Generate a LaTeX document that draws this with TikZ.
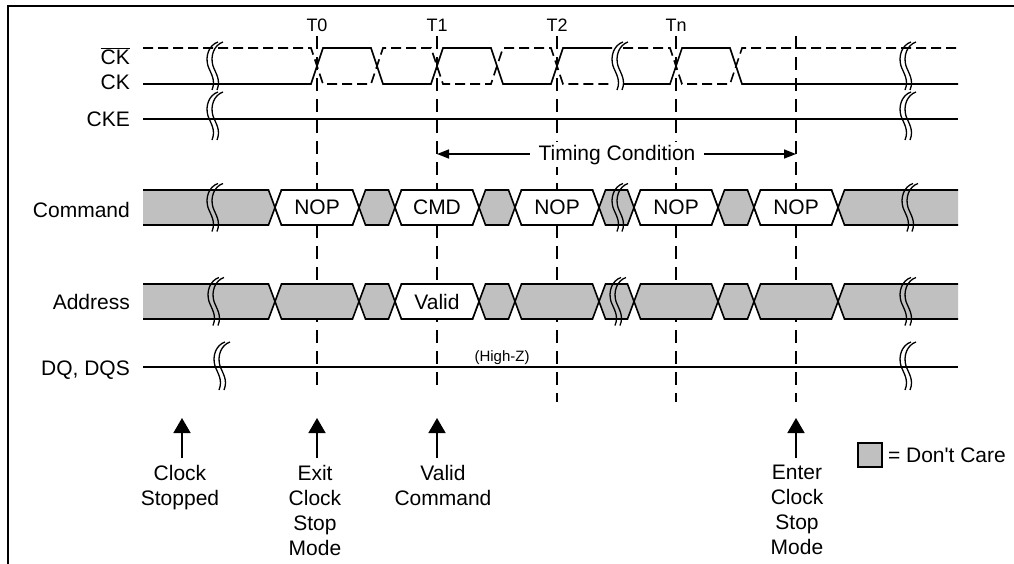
\documentclass[tikz,border=0pt]{standalone}
\usepackage{fontspec}
\setmainfont{Liberation Sans}
\usetikzlibrary{arrows.meta}
\definecolor{dcGray}{HTML}{C0C0C0}
\tikzset{
  sig/.style={line width=1.6pt},
  tline/.style={line width=1.5pt,dash pattern=on 13pt off 8pt},
  txt/.style={font=\fontsize{21}{25}\selectfont,inner sep=0pt},
  brk/.pic={
    \foreach \dx in {-2,3}
      \draw[line width=1.3pt] (8+\dx,-24) .. controls (-1+\dx,-21) and (-5+\dx,-10) .. (-2+\dx,0)
        .. controls (1+\dx,8) and (6+\dx,14) .. (2+\dx,24);
  }
}

\begin{document}
\begin{tikzpicture}[x=1pt,y=-1pt]
  \useasboundingbox (0,0) rectangle (1014,563);
  \draw[line width=2pt] (8,570) -- (8,6) -- (1020,6);

  \foreach \tx/\yb in {317/388,437/388,557/402,676/402,796/402}
    \draw[tline] (\tx,36) -- (\tx,\yb);
  \foreach \tx/\lab [count=\k] in {317/T0,437/T1,557/T2,676/Tn}
    \node[txt,font=\fontsize{18}{20}\selectfont,anchor=base] (tl\k) at (\tx,31.5) {\lab};

  \draw[sig] (143,84) -- (311,84) -- (323,48) -- (371,48) -- (383,84) -- (431,84) -- (443,48) -- (491,48)
    -- (503,84) -- (551,84) -- (563,48) -- (612,48);
  \draw[sig] (623,84) -- (670,84) -- (682,48) -- (730,48) -- (742,84) -- (958,84);
  \draw[sig,dash pattern=on 10pt off 5pt] (143,48) -- (311,48) -- (323,84) -- (371,84) -- (383,48) -- (431,48)
    -- (443,84) -- (491,84) -- (503,48) -- (551,48) -- (563,84) -- (612,84);
  \draw[sig,dash pattern=on 10pt off 5pt] (623,48) -- (670,48) -- (682,84) -- (730,84) -- (742,48) -- (958,48);
  \draw[sig] (143,119) -- (958,119);
  \draw[sig] (143,367) -- (958,367);

  \foreach \ym in {207.5,301.5} {
    \fill[dcGray] (143,\ym-17.5) -- (268.5,\ym-17.5) -- (275,\ym) -- (268.5,\ym+17.5) -- (143,\ym+17.5) -- cycle;
    \draw[sig] (143,\ym-17.5) -- (268.5,\ym-17.5) -- (275,\ym) -- (268.5,\ym+17.5) -- (143,\ym+17.5);
    \fill[dcGray] (958,\ym-17.5) -- (844.5,\ym-17.5) -- (838,\ym) -- (844.5,\ym+17.5) -- (958,\ym+17.5) -- cycle;
    \draw[sig] (958,\ym-17.5) -- (844.5,\ym-17.5) -- (838,\ym) -- (844.5,\ym+17.5) -- (958,\ym+17.5);
    \foreach \a/\b in {275/359,359/395,395/479,479/515,515/599,599/634,634/718,718/754,754/838}
      \filldraw[sig,fill=dcGray] (\a,\ym) -- (\a+6.5,\ym-17.5) -- (\b-6.5,\ym-17.5) -- (\b,\ym)
        -- (\b-6.5,\ym+17.5) -- (\a+6.5,\ym+17.5) -- cycle;
  }
  \foreach \tx/\lab [count=\k] in {317/NOP,437/CMD,557/NOP,676/NOP,796/NOP} {
    \filldraw[sig,fill=white] (\tx-42,207.5) -- (\tx-35.5,190) -- (\tx+35.5,190) -- (\tx+42,207.5)
      -- (\tx+35.5,225) -- (\tx-35.5,225) -- cycle;
    \node[txt,anchor=base] (cmd\k) at (\tx,214.5) {\lab};
  }
  \filldraw[sig,fill=white] (395,301.5) -- (401.5,284) -- (472.5,284) -- (479,301.5) -- (472.5,319) -- (401.5,319) -- cycle;
  \node[txt,anchor=base] (adrValid) at (437,309) {Valid};

  \foreach \bx/\by in {212/66,212/116,212/207.5,213/301.5,219/366,617/66,617/207.5,615/301.5,
                       905/66,905/116,907/207.5,905/301.5,905/366}
    \pic at (\bx,\by) {brk};

  \coordinate (tcL) at (437,154);
  \coordinate (tcR) at (796,154);
  \draw[sig,{Triangle[length=12pt,width=9pt]}-{Triangle[length=12pt,width=9pt]}] (tcL) -- (tcR);
  \node[txt,anchor=base,fill=white,inner xsep=9pt,inner ysep=3pt] (tcText) at (617,160) {Timing Condition};

  \foreach \ly/\lab [count=\k] in {64/{$\overline{\mbox{CK}}$},89.5/CK,126.5/CKE,217/Command,309/Address,375/{DQ, DQS}}
    \node[txt,anchor=base east] (sl\k) at (130,\ly) {\lab};
  \node[txt,font=\fontsize{15}{17}\selectfont,anchor=base] (hiZ) at (502,361) {(High-Z)};

  \foreach \ax/\nx/\lab [count=\k] in {182/180/{Clock\\Stopped},317/315/{Exit\\Clock\\Stop\\Mode},
                                      437/443/{Valid\\Command},796/797/{Enter\\Clock\\Stop\\Mode}} {
    \coordinate (evTip\k) at (\ax,418);
    \node[txt,align=center,anchor=north,inner ysep=7pt] (ev\k) at (\nx,458) {\lab};
    \draw[sig,-{Triangle[length=15pt,width=17pt]}] (ev\k.north -| evTip\k) -- (evTip\k);
  }

  \node[draw,sig,fill=dcGray,minimum size=24pt,inner sep=0pt] (dcBox) at (870,455) {};
  \node[txt,anchor=west,inner xsep=5pt] (dcText) at (dcBox.east) {= Don\textquotesingle t Care};
\end{tikzpicture}
\end{document}
